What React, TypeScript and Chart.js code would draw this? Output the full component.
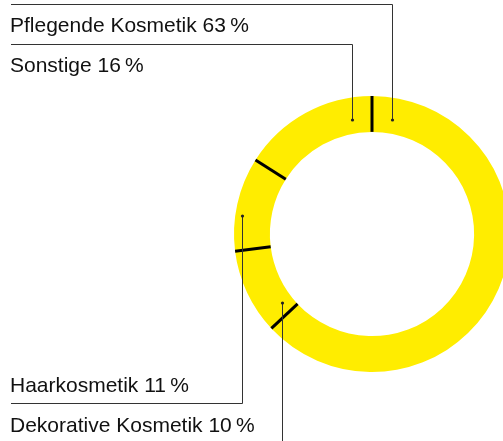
import React, { useEffect, useRef } from "react";
import { Chart, registerables } from "chart.js";

Chart.register(...registerables);

const categories = ["Pflegende Kosmetik", "Dekorative Kosmetik", "Haarkosmetik", "Sonstige"];
const shares = [63, 10, 11, 16];
const labelTexts = categories.map((c, i) => `${c} ${shares[i]}\u202F%`);

const W = 520;
const H = 441;

const overlayPlugin = {
  id: "overlay",
  afterDatasetsDraw(chart: any) {
    const ctx = chart.ctx as CanvasRenderingContext2D;
    const meta = chart.getDatasetMeta(0);
    const arcs = meta.data as any[];
    if (!arcs.length) return;
    const cx = arcs[0].x;
    const cy = arcs[0].y;
    // separators
    ctx.save();
    ctx.strokeStyle = "#000";
    ctx.lineWidth = 3;
    ctx.lineCap = "butt";
    arcs.forEach((a) => {
      const ang = a.startAngle;
      ctx.beginPath();
      ctx.moveTo(cx + Math.cos(ang) * a.innerRadius, cy + Math.sin(ang) * a.innerRadius);
      ctx.lineTo(cx + Math.cos(ang) * a.outerRadius, cy + Math.sin(ang) * a.outerRadius);
      ctx.stroke();
    });
    ctx.restore();

    // leader lines and labels
    const leftX = 11;
    const font = '21px "Liberation Sans", Arial, Helvetica, sans-serif';
    type Leader = { idx: number; dx: number; dy: number; lineY: number; textY: number };
    const leaders: Leader[] = [
      { idx: 0, dx: 20, dy: -114, lineY: 4.5, textY: 32 },
      { idx: 3, dx: -20, dy: -114, lineY: 44.5, textY: 72 },
      { idx: 2, dx: -130, dy: -18, lineY: 403.5, textY: 392 },
      { idx: 1, dx: -90, dy: 69, lineY: 460, textY: 432 },
    ];
    ctx.save();
    ctx.strokeStyle = "#333";
    ctx.fillStyle = "#222";
    ctx.lineWidth = 1;
    leaders.forEach((l) => {
      const px = Math.round(cx + l.dx) + 0.5;
      const py = cy + l.dy;
      ctx.beginPath();
      ctx.moveTo(leftX, l.lineY);
      ctx.lineTo(px, l.lineY);
      ctx.lineTo(px, py);
      ctx.stroke();
      ctx.beginPath();
      ctx.arc(px, py, 1.6, 0, Math.PI * 2);
      ctx.fill();
    });
    ctx.fillStyle = "#111";
    ctx.font = font;
    ctx.textAlign = "left";
    ctx.textBaseline = "alphabetic";
    leaders.forEach((l) => {
      ctx.fillText(labelTexts[l.idx], 10, l.textY);
    });
    ctx.restore();
  },
};

export default function App() {
  const ref = useRef<HTMLCanvasElement | null>(null);
  useEffect(() => {
    if (!ref.current) return;
    const chart = new Chart(ref.current, {
      type: "doughnut",
      data: {
        labels: categories,
        datasets: [
          {
            data: shares,
            backgroundColor: "#FFED00",
            borderWidth: 0,
          },
        ],
      },
      options: {
        responsive: false,
        animation: false,
        cutout: "74%",
        layout: { padding: { left: 234, top: 96, right: W - 510, bottom: H - 372 } },
        plugins: { legend: { display: false }, tooltip: { enabled: false } },
      },
      plugins: [overlayPlugin],
    });
    return () => chart.destroy();
  }, []);
  return (
    <div style={{ position: "fixed", left: 0, top: 0, width: 503, height: 441, overflow: "hidden", background: "#fff" }}>
      <canvas ref={ref} width={W} height={H} style={{ display: "block" }} />
    </div>
  );
}
